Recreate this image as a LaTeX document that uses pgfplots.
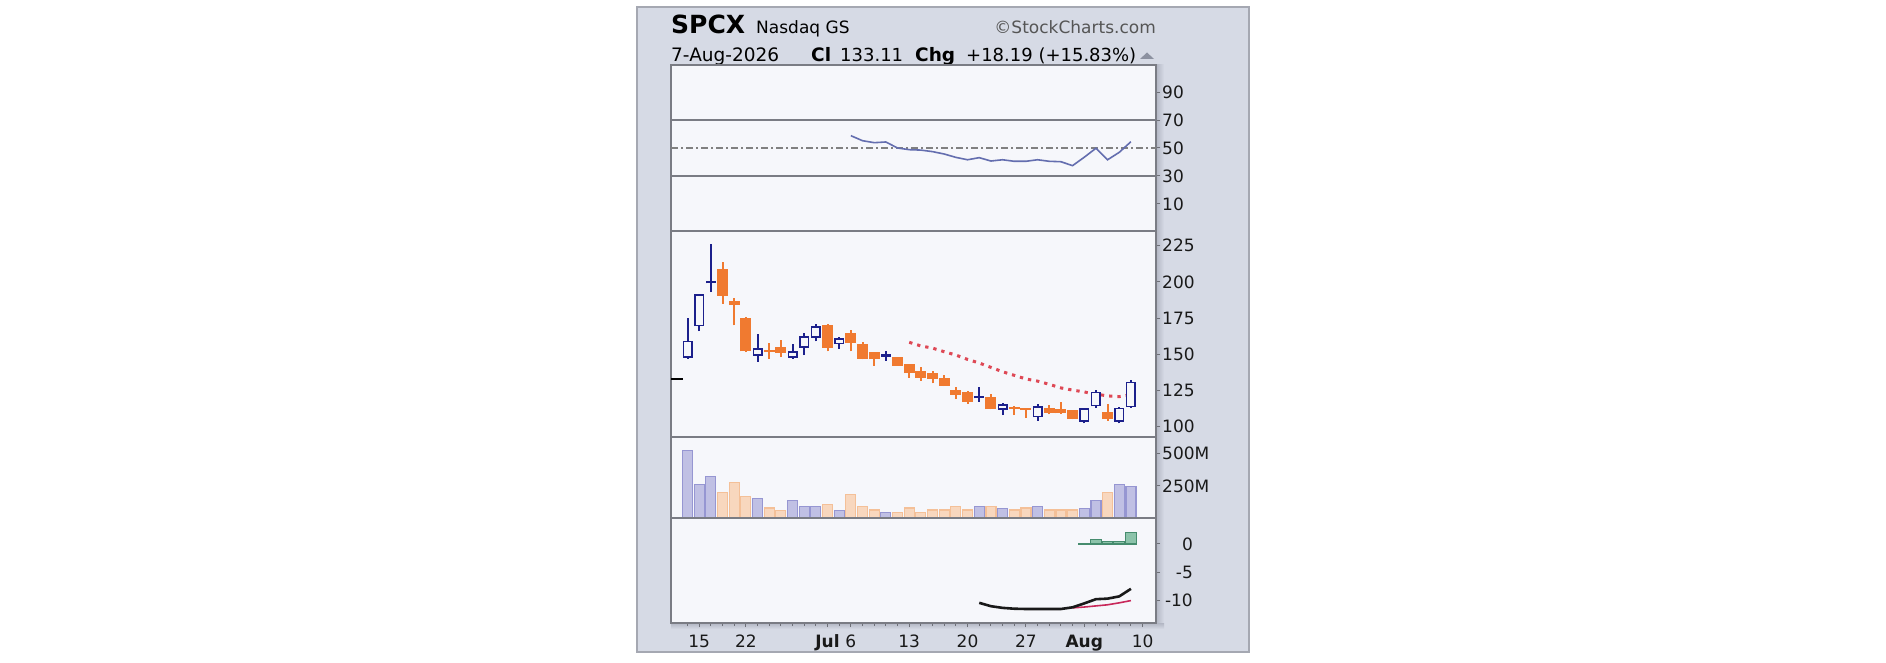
\documentclass[border=0pt]{standalone}
\usepackage{fontspec}
\setmainfont{DejaVu Sans}
\usepackage{pgfplots}
\pgfplotsset{compat=1.18}
\usepackage{pgfplotstable}

\definecolor{chartbg}{RGB}{214,218,229}
\definecolor{outerc}{RGB}{165,168,178}
\definecolor{plotbg}{RGB}{246,247,251}
\definecolor{framec}{RGB}{122,124,132}
\definecolor{tickc}{RGB}{110,112,120}
\definecolor{labelc}{RGB}{25,25,25}
\definecolor{bluec}{RGB}{28,32,140}
\definecolor{orangec}{RGB}{240,122,48}
\definecolor{vbfill}{RGB}{192,192,228}
\definecolor{vbdraw}{RGB}{150,150,210}
\definecolor{vofill}{RGB}{248,215,190}
\definecolor{vodraw}{RGB}{244,192,152}
\definecolor{rsic}{RGB}{100,110,175}
\definecolor{mac}{RGB}{222,72,85}
\definecolor{histfill}{RGB}{140,195,170}
\definecolor{histdraw}{RGB}{70,140,110}
\definecolor{sigc}{RGB}{200,40,90}
\definecolor{graytext}{RGB}{85,85,85}
\definecolor{tric}{RGB}{140,145,160}
\definecolor{shadowc}{RGB}{178,182,195}

\newcommand\tickfont{\fontsize{17pt}{17pt}\selectfont}

\pgfplotstableread{
x o h l c
0 148 175 147 159
1 170 192 166 191
6 149.5 164 145 153.7
9 148 157 147 151.5
10 155 165 149.5 162
11 162 171 159 169
13 157.6 162 153.7 160.6
27 112.2 116.2 108 115
30 107 115.5 104 113.8
34 104 112.5 102.3 112.2
35 114.5 125.3 113 123.8
37 104 113.8 102.3 112.5
38 114 132.2 113 130.5
}\upcandles

\pgfplotstableread{
x o h l c
2 201 226 193 199
17 150 152 145.5 148.5
25 121.2 127.6 117.3 119.5
}\dnbluecandles

\pgfplotstableread{
x o h l c
3 209 214 185 190.5
4 187 189 170 184
5 175 175.5 151.5 152
7 153 158 147 151.5
8 155 160 148 151
12 170.5 171 152 154.5
14 165 167 152 157.6
15 157 158.7 146.5 147
16 151.4 151.5 142 146.5
18 148.3 148.5 142 142.1
19 143 143.5 134 137
20 138.5 141.4 131.6 134
21 137 138.5 130 133
22 133.4 136 128 128.3
23 125.3 127.6 119 122
24 124 124.5 116 117.3
26 120.7 122.4 112 112.2
28 113.8 114 108 112.5
29 112.6 112.8 106 111.6
31 112.7 115 108.6 109.6
32 112.5 117 109 109.3
33 111.5 111.7 105 105.3
36 110 115.5 104 105.3
}\orangecandles

\pgfplotstableread{
x ma
19 158.3
20 155.8
21 154.3
22 151.8
23 149.5
24 146.5
25 144
26 141
27 138
28 135.5
29 133
30 131.5
31 129.3
32 126.8
33 125.3
34 124
35 122.5
36 121.3
37 120.8
38 122
}\matable

\pgfplotstableread{
x rsi
14 58.8
15 55.2
16 53.8
17 54.3
18 50
19 48.8
20 48.5
21 47.4
22 45.7
23 43.3
24 41.6
25 43.1
26 40.7
27 41.6
28 40.5
29 40.5
30 41.6
31 40.5
32 40.2
33 37.4
34 43.4
35 49.8
36 41.6
37 46.9
38 54.5
}\rsitable

\pgfplotstableread{
x v
0 528
1 263
2 325
6 154
9 138
10 91
11 91
13 57
17 41
25 88
27 76
30 91
34 76
35 138
37 263
38 247
}\volblue

\pgfplotstableread{
x v
3 197
4 278
5 169
7 78
8 57
12 107
14 185
15 91
16 62
18 41
19 78
20 44
21 62
22 62
23 88
24 62
26 91
28 62
29 78
31 62
32 62
33 62
36 197
}\volorange

\pgfplotstableread{
x p
25 -10.5
26 -11.1
27 -11.4
28 -11.55
29 -11.6
30 -11.6
31 -11.6
32 -11.6
33 -11.3
34 -10.6
35 -9.85
36 -9.75
37 -9.35
38 -8.0
}\ppotable

\pgfplotstableread{
x s
33 -11.4
34 -11.25
35 -11.05
36 -10.85
37 -10.5
38 -10.1
}\sigtable

\pgfplotstableread{
x hv
34 0.1
35 0.8
36 0.4
37 0.4
38 2.1
}\histtable

\pgfplotsset{
  panel/.style={
    scale only axis, width=485pt, xmin=-1.414, xmax=40.15,
    axis background/.style={fill=plotbg},
    axis line style={draw=framec, line width=1.5pt},
    ytick pos=right, yticklabel pos=right,
    tick align=outside,
    major tick length=4pt,
    major tick style={draw=tickc, line width=1pt},
    xtick=\empty,
    yticklabel style={font=\tickfont, text=labelc, anchor=west, inner sep=0pt, xshift=2pt},
  },
  wick/.style={draw=none, mark=none, forget plot,
    error bars/.cd, y dir=plus, y explicit, error mark=none,
    error bar style={draw=#1, line width=2pt}},
  body/.style 2 args={draw=none, mark=none, forget plot,
    error bars/.cd, y dir=plus, y explicit, error mark=none,
    error bar style={draw=#1, line width=#2}},
}

\begin{document}
\begin{tikzpicture}[x=1pt,y=1pt]
\path[use as bounding box, fill=white] (0,0) rectangle (1886,662);
\fill[chartbg] (637,10) rectangle (1249,655);
\draw[outerc, line width=2pt] (637,10) rectangle (1249,655);
\shade[left color=shadowc, right color=chartbg] (1156,34) rectangle (1164,597);
\shade[top color=shadowc, bottom color=chartbg] (671,33) rectangle (1164,39);

% titles
\node[anchor=base west, inner sep=0pt, font=\fontsize{25pt}{25pt}\selectfont\bfseries] at (671,628.7) {SPCX};
\node[anchor=base west, inner sep=0pt, font=\fontsize{17pt}{17pt}\selectfont] at (756,628.7) {Nasdaq GS};
\node[anchor=base east, inner sep=0pt, font=\fontsize{17pt}{17pt}\selectfont, text=graytext] at (1156,628.7) {©StockCharts.com};
\node[anchor=base west, inner sep=0pt, font=\fontsize{18.5pt}{18pt}\selectfont] at (671,600.3) {7-Aug-2026};
\node[anchor=base west, inner sep=0pt, font=\fontsize{18.5pt}{18pt}\selectfont\bfseries] at (811,600.3) {Cl};
\node[anchor=base west, inner sep=0pt, font=\fontsize{18pt}{18pt}\selectfont] at (840,600.3) {133.11};
\node[anchor=base west, inner sep=0pt, font=\fontsize{18.5pt}{18pt}\selectfont\bfseries] at (915,600.3) {Chg};
\node[anchor=base west, inner sep=0pt, font=\fontsize{18pt}{18pt}\selectfont] at (966,600.3) {+18.19 (+15.83\%)};
\fill[tric] (1140,603) -- (1154,603) -- (1147,609.5) -- cycle;

% RSI panel
\begin{axis}[panel, at={(671pt,431pt)}, anchor=south west, height=166pt,
  ymin=-9.3, ymax=109.3, ytick={10,30,50,70,90}, yticklabels={10,30,50,70,90}]
\addplot[framec, line width=1.5pt] coordinates {(-1.414,70) (40.15,70)};
\addplot[framec, line width=1.5pt] coordinates {(-1.414,30) (40.15,30)};
\addplot[gray, line width=1.3pt, dash pattern=on 7pt off 3pt on 2pt off 3pt] coordinates {(-1.414,50) (40.15,50)};
\addplot[rsic, line width=1.6pt] table[x=x, y=rsi] \rsitable;
\end{axis}

% price panel
\begin{axis}[panel, at={(671pt,225pt)}, anchor=south west, height=206pt,
  ymin=92.9, ymax=235.2, ytick={100,125,150,175,200,225}, yticklabels={100,125,150,175,200,225}]
\addplot[black, line width=2pt] coordinates {(-1.414,133) (-0.42,133)};
\addplot[mac, line width=3pt, dash pattern=on 3.3pt off 5pt] table[x=x, y=ma] \matable;
% wicks
\addplot[wick=bluec] table[x=x, y=l, y error plus expr=\thisrow{h}-\thisrow{l}] \upcandles;
\addplot[wick=bluec] table[x=x, y=l, y error plus expr=\thisrow{h}-\thisrow{l}] \dnbluecandles;
\addplot[wick=orangec] table[x=x, y=l, y error plus expr=\thisrow{h}-\thisrow{l}] \orangecandles;
% bodies
\addplot[body={bluec}{10pt}] table[x=x, y expr=\thisrow{o}-0.5, y error plus expr=\thisrow{c}-\thisrow{o}+1.0] \upcandles;
\addplot[body={plotbg}{7pt}] table[x=x, y expr=\thisrow{o}+0.55, y error plus expr=\thisrow{c}-\thisrow{o}-1.1] \upcandles;
\addplot[body={bluec}{10.5pt}] table[x=x, y=c, y error plus expr=\thisrow{o}-\thisrow{c}] \dnbluecandles;
\addplot[body={orangec}{11pt}] table[x=x, y=c, y error plus expr=\thisrow{o}-\thisrow{c}] \orangecandles;
\end{axis}

% volume panel
\begin{axis}[panel, at={(671pt,144pt)}, anchor=south west, height=81pt,
  ymin=0, ymax=630, ytick={250,500}, yticklabels={250M,500M}]
\addplot[ybar, bar width=10pt, bar shift=0pt, fill=vbfill, draw=vbdraw, line width=1.2pt] table[x=x, y=v] \volblue;
\addplot[ybar, bar width=10pt, bar shift=0pt, fill=vofill, draw=vodraw, line width=1.2pt] table[x=x, y=v] \volorange;
\end{axis}

% indicator panel
\begin{axis}[panel, at={(671pt,39pt)}, anchor=south west, height=105pt,
  ymin=-14.1, ymax=4.64, ytick={-10,-5,0}, yticklabels={-10,-5,0},
  yticklabel style={anchor=east, xshift=31pt},
  xtick={1,5,12,14,19,24,29,34,39},
  xticklabels={15,22,\textbf{Jul},6,13,20,27,\textbf{Aug},10},
  minor xtick={0,...,39},
  xtick pos=bottom, xticklabel pos=bottom,
  minor tick length=3pt, minor tick style={draw=tickc, line width=1pt},
  xticklabel style={font=\tickfont, text=labelc, anchor=base, inner sep=0pt, yshift=-20pt}]
\addplot[ybar, bar width=11pt, bar shift=0pt, fill=histfill, draw=histdraw, line width=1.2pt] table[x=x, y=hv] \histtable;
\addplot[sigc, line width=1.6pt] table[x=x, y=s] \sigtable;
\addplot[black!90, line width=2.6pt] table[x=x, y=p] \ppotable;
\end{axis}
\end{tikzpicture}
\end{document}
